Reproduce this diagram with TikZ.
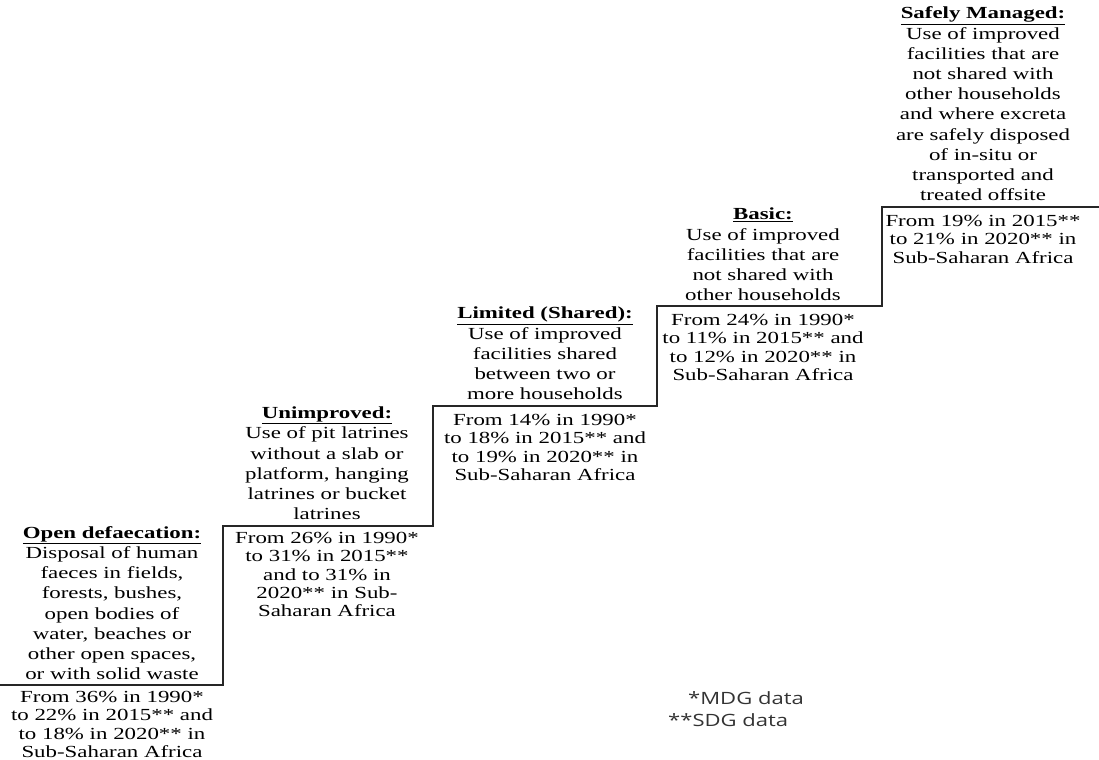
\documentclass[tikz,border=0pt]{standalone}
\usepackage{fontspec}
\setmainfont{Liberation Serif}[FakeStretch=1.35]
\newfontfamily\legendfont{Open Sans}[FakeStretch=1.3]
\begin{document}
\begin{tikzpicture}[x=1bp,y=-1bp,
  desc/.style={anchor=south, align=center, inner sep=0pt, text depth=0pt,
    font=\fontsize{17}{20.3}\selectfont},
  stat/.style={anchor=north, align=center, inner sep=0pt,
    font=\fontsize{17}{18.4}\selectfont},
  legend/.style={anchor=west, inner sep=0pt, font=\legendfont\fontsize{17}{19}\selectfont, text=black!80},
  stair/.style={line width=1.8bp, draw=black!85}]
\useasboundingbox (0,0) rectangle (1099,760);
% staircase
\coordinate (s0) at (0,685);
\coordinate (s1) at (223,685);
\coordinate (s2) at (223,526);
\coordinate (s3) at (433,526);
\coordinate (s4) at (433,406);
\coordinate (s5) at (657,406);
\coordinate (s6) at (657,306);
\coordinate (s7) at (882,306);
\coordinate (s8) at (882,207);
\coordinate (s9) at (1099,207);
\draw[stair] (s0) -- (s1) -- (s2) -- (s3) -- (s4) -- (s5) -- (s6) -- (s7) -- (s8) -- (s9);
% descriptions
\node[desc] (open) at (112,680) {\textbf{\underline{Open defaecation:}}\\Disposal of human\\faeces in fields,\\forests, bushes,\\open bodies of\\water, beaches or\\other open spaces,\\or with solid waste};
\node[desc] (unimp) at (327,520) {\textbf{\underline{Unimproved:}}\\Use of pit latrines\\without a slab or\\platform, hanging\\latrines or bucket\\latrines};
\node[desc] (lim) at (545,400) {\textbf{\underline{Limited (Shared):}}\\Use of improved\\facilities shared\\between two or\\more households};
\node[desc] (basic) at (763,301) {\textbf{\underline{Basic:}}\\Use of improved\\facilities that are\\not shared with\\other households};
\node[desc] (safe) at (983,201) {\textbf{\underline{Safely Managed:}}\\Use of improved\\facilities that are\\not shared with\\other households\\and where excreta\\are safely disposed\\of in-situ or\\transported and\\treated offsite};
% statistics
\node[stat] (openS) at (112,691) {From 36\% in 1990*\\to 22\% in 2015** and\\to 18\% in 2020** in\\Sub-Saharan Africa};
\node[stat] (unimpS) at (327,532) {From 26\% in 1990*\\to 31\% in 2015**\\and to 31\% in\\2020** in Sub-\\Saharan Africa};
\node[stat] (limS) at (545,414) {From 14\% in 1990*\\to 18\% in 2015** and\\to 19\% in 2020** in\\Sub-Saharan Africa};
\node[stat] (basicS) at (763,314) {From 24\% in 1990*\\to 11\% in 2015** and\\to 12\% in 2020** in\\Sub-Saharan Africa};
\node[stat] (safeS) at (983,215) {From 19\% in 2015**\\to 21\% in 2020** in\\Sub-Saharan Africa};
% legend
\node[legend] (mdg) at (688,698) {*MDG data};
\node[legend] (sdg) at (668,720) {**SDG data};
\end{tikzpicture}
\end{document}
